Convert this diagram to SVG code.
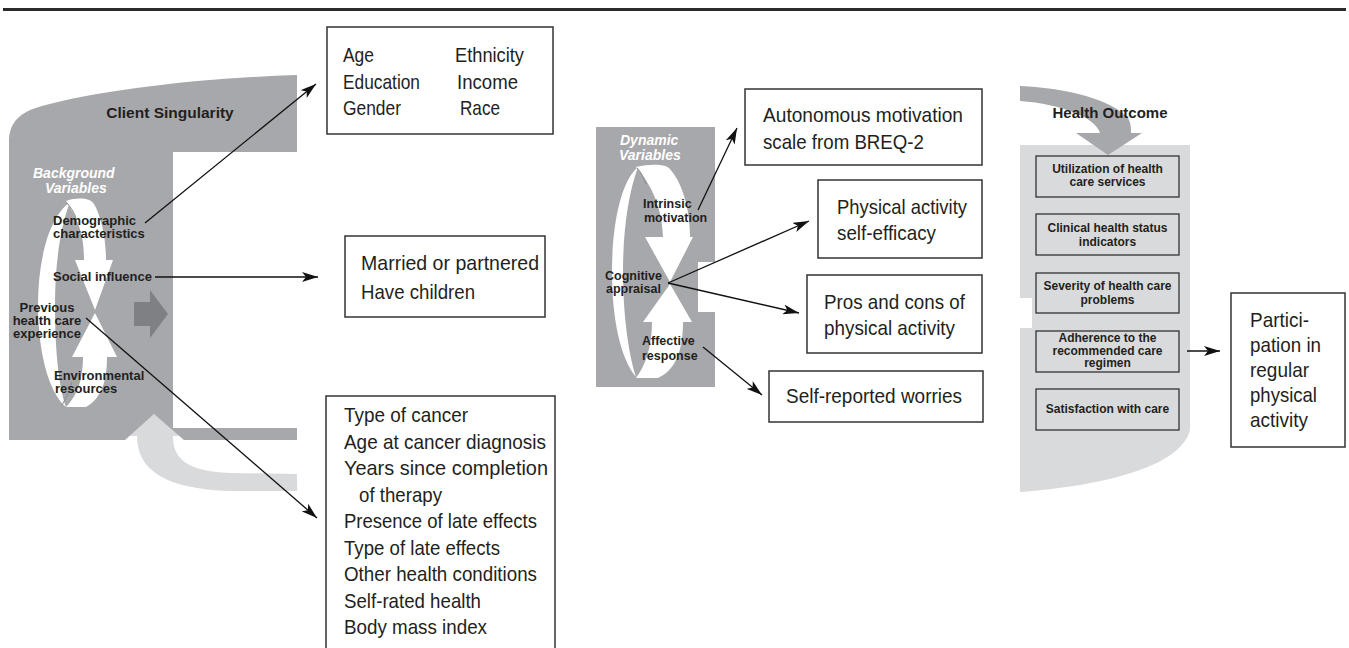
<svg xmlns="http://www.w3.org/2000/svg" width="1349" height="648" viewBox="0 0 1349 648">
<defs>
<marker id="ah" viewBox="0 0 16 10" refX="16" refY="5" markerWidth="16" markerHeight="10" markerUnits="userSpaceOnUse" orient="auto">
<path d="M0,0 L16,5 L0,10 L4,5 Z" fill="#111"/>
</marker>
<style>
.panel{fill:#a7a8ab}
.dark{fill:#7f8083}
.light{fill:#d9dadc}
.white{fill:#fff}
.tw{fill:none;stroke:#8a8b8e;stroke-width:1}
.lbl{font-family:"Liberation Sans",Arial,sans-serif;font-weight:bold;font-size:13px;fill:#231f20}
.lbm{font-family:"Liberation Sans",Arial,sans-serif;font-weight:bold;font-size:12.5px;fill:#231f20}
.ttl{font-family:"Liberation Sans",Arial,sans-serif;font-weight:bold;font-size:15.5px;fill:#231f20}
.wit{font-family:"Liberation Sans",Arial,sans-serif;font-weight:bold;font-style:italic;font-size:14px;fill:#fff}
.box{fill:#fff;stroke:#333;stroke-width:1.5}
.ibox{fill:none;stroke:#333;stroke-width:1.3}
.bt{font-family:"Liberation Sans",Arial,sans-serif;font-size:21px;fill:#231f20}
.ib{font-family:"Liberation Sans",Arial,sans-serif;font-weight:bold;font-size:12px;fill:#231f20;text-anchor:middle}
.conn{fill:none;stroke:#111;stroke-width:1.3;marker-end:url(#ah)}
</style>
</defs>
<rect width="1349" height="648" fill="#fff"/>
<rect x="3" y="8" width="1343" height="3" fill="#2b2b2b"/>

<g id="client-singularity">
<path class="light" d="M137,436 L125,436 L154,414 L184,436 L173,436 C173,458 185,471 230,473 L297,474 L297,491 L230,491 C165,489 137,470 137,436 Z"/>
<path class="panel" d="M9,440 V142 C9,122 20,112 42,106 C100,90 200,78 297,75 V152 H173 V428 H297 V440 H184 L154,414 L125,440 Z"/>
<path class="dark" d="M134,302 H150 V290 L168,314 L150,338 V326 H134 Z"/>
<path class="white" d="M70,202 C48,218 38,262 38,305 C38,350 48,392 66,407 C58,385 55,345 55,305 C55,265 60,228 70,202 Z"/>
<path class="white" d="M66,201 C78,197 90,198 94,204 C101,216 106,238 106,260 L113,260 L95,310 L75,260 L84,260 C84,238 80,222 66,201 Z"/>
<path class="white" d="M95,313 L117,357 L107,357 C107,380 102,398 86,407 L66,407 C78,395 83,378 83,357 L72,357 Z"/>
<path class="tw" d="M66,202 C70,206 74,212 76,218"/>
<path class="tw" d="M62,405 C66,398 70,390 72,382"/>
<text class="ttl" x="170" y="118" text-anchor="middle">Client Singularity</text>
<text class="wit" x="33" y="178">Background</text>
<text class="wit" x="45" y="193">Variables</text>
<text class="lbl" x="53" y="225">Demographic</text>
<text class="lbl" x="53" y="238">characteristics</text>
<text class="lbl" x="53" y="281">Social influence</text>
<text class="lbl" x="47" y="312" text-anchor="middle">Previous</text>
<text class="lbl" x="47" y="325" text-anchor="middle">health care</text>
<text class="lbl" x="47" y="338" text-anchor="middle">experience</text>
<text class="lbl" x="54" y="380">Environmental</text>
<text class="lbl" x="55" y="393">resources</text>
</g>

<g id="demographics-box">
<rect class="box" x="327" y="27" width="226" height="107"/>
<text class="bt" x="343" y="62" textLength="31" lengthAdjust="spacingAndGlyphs">Age</text>
<text class="bt" x="343" y="89" textLength="77" lengthAdjust="spacingAndGlyphs">Education</text>
<text class="bt" x="343" y="115" textLength="58" lengthAdjust="spacingAndGlyphs">Gender</text>
<text class="bt" x="455" y="62" textLength="69" lengthAdjust="spacingAndGlyphs">Ethnicity</text>
<text class="bt" x="457" y="89" textLength="61" lengthAdjust="spacingAndGlyphs">Income</text>
<text class="bt" x="460" y="115" textLength="40" lengthAdjust="spacingAndGlyphs">Race</text>
</g>

<g id="social-box">
<rect class="box" x="345" y="236" width="200" height="81"/>
<text class="bt" x="361" y="270" textLength="178" lengthAdjust="spacingAndGlyphs">Married or partnered</text>
<text class="bt" x="361" y="299" textLength="114" lengthAdjust="spacingAndGlyphs">Have children</text>
</g>

<g id="health-history-box">
<rect class="box" x="326" y="396" width="229" height="260"/>
<text class="bt" x="344" y="422" textLength="124" lengthAdjust="spacingAndGlyphs">Type of cancer</text>
<text class="bt" x="344" y="449" textLength="202" lengthAdjust="spacingAndGlyphs">Age at cancer diagnosis</text>
<text class="bt" x="344" y="475" textLength="204" lengthAdjust="spacingAndGlyphs">Years since completion</text>
<text class="bt" x="359" y="502" textLength="83" lengthAdjust="spacingAndGlyphs">of therapy</text>
<text class="bt" x="344" y="528" textLength="193" lengthAdjust="spacingAndGlyphs">Presence of late effects</text>
<text class="bt" x="344" y="555" textLength="156" lengthAdjust="spacingAndGlyphs">Type of late effects</text>
<text class="bt" x="344" y="581" textLength="193" lengthAdjust="spacingAndGlyphs">Other health conditions</text>
<text class="bt" x="344" y="608" textLength="137" lengthAdjust="spacingAndGlyphs">Self-rated health</text>
<text class="bt" x="344" y="634" textLength="143" lengthAdjust="spacingAndGlyphs">Body mass index</text>
</g>

<g id="dynamic-variables">
<path class="panel" d="M596,127 H715 V262 H698 V312 H715 V387 H596 Z"/>
<path class="white" d="M638,167 C620,182 612,228 612,272 C612,318 620,358 636,377 C628,352 623,312 623,272 C623,232 628,194 638,167 Z"/>
<path class="white" d="M636,167 C650,164 664,164 669,168 C682,182 690,208 690,237 L693,237 L670,282 L645,237 L663,237 C662,214 656,190 636,167 Z"/>
<path class="white" d="M670,284 L692,322 L683,322 C683,350 676,370 658,378 L636,378 C646,365 652,345 652,322 L643,322 Z"/>
<path class="tw" d="M637,168 C641,172 644,178 646,184"/>
<text class="wit" x="620" y="145">Dynamic</text>
<text class="wit" x="619" y="160">Variables</text>
<text class="lbm" x="643" y="208">Intrinsic</text>
<text class="lbm" x="644" y="222">motivation</text>
<text class="lbm" x="605" y="280">Cognitive</text>
<text class="lbm" x="606" y="293">appraisal</text>
<text class="lbm" x="642" y="345">Affective</text>
<text class="lbm" x="642" y="360">response</text>
</g>

<g id="autonomous-box">
<rect class="box" x="745" y="89" width="237" height="76"/>
<text class="bt" x="763" y="122" textLength="200" lengthAdjust="spacingAndGlyphs">Autonomous motivation</text>
<text class="bt" x="763" y="149" textLength="161" lengthAdjust="spacingAndGlyphs">scale from BREQ-2</text>
</g>

<g id="self-efficacy-box">
<rect class="box" x="818" y="180" width="164" height="78"/>
<text class="bt" x="837" y="214" textLength="130" lengthAdjust="spacingAndGlyphs">Physical activity</text>
<text class="bt" x="837" y="240" textLength="99" lengthAdjust="spacingAndGlyphs">self-efficacy</text>
</g>

<g id="pros-cons-box">
<rect class="box" x="807" y="275" width="175" height="78"/>
<text class="bt" x="824" y="309" textLength="141" lengthAdjust="spacingAndGlyphs">Pros and cons of</text>
<text class="bt" x="824" y="335" textLength="131" lengthAdjust="spacingAndGlyphs">physical activity</text>
</g>

<g id="worries-box">
<rect class="box" x="769" y="371" width="214" height="51"/>
<text class="bt" x="786" y="403" textLength="176" lengthAdjust="spacingAndGlyphs">Self-reported worries</text>
</g>

<g id="health-outcome">
<path class="light" d="M1020,145 H1190 V430 C1180,468 1100,486 1020,492 V328 H1032 V298 H1020 Z"/>
<path class="panel" d="M1020,86 C1068,88 1112,100 1128,118 C1131,123 1131,128 1131,133 L1142,133 L1108,155 L1076,133 L1100,133 C1096,118 1062,104 1020,101 Z"/>
<text class="ttl" x="1110" y="118" text-anchor="middle" style="font-size:15px">Health Outcome</text>
<rect class="ibox" x="1036" y="156" width="143" height="41"/>
<text class="ib" x="1107.5" y="173">Utilization of health</text>
<text class="ib" x="1107.5" y="186">care services</text>
<rect class="ibox" x="1036" y="214" width="143" height="41"/>
<text class="ib" x="1107.5" y="232">Clinical health status</text>
<text class="ib" x="1107.5" y="246">indicators</text>
<rect class="ibox" x="1036" y="273" width="143" height="40"/>
<text class="ib" x="1107.5" y="290">Severity of health care</text>
<text class="ib" x="1107.5" y="304">problems</text>
<rect class="ibox" x="1036" y="331" width="143" height="41"/>
<text class="ib" x="1107.5" y="342">Adherence to the</text>
<text class="ib" x="1107.5" y="355">recommended care</text>
<text class="ib" x="1107.5" y="367">regimen</text>
<rect class="ibox" x="1036" y="389" width="143" height="41"/>
<text class="ib" x="1107.5" y="413">Satisfaction with care</text>
</g>

<g id="participation-box">
<rect class="box" x="1231" y="293" width="114" height="154"/>
<text class="bt" x="1250" y="327" textLength="59" lengthAdjust="spacingAndGlyphs">Partici-</text>
<text class="bt" x="1250" y="352" textLength="71" lengthAdjust="spacingAndGlyphs">pation in</text>
<text class="bt" x="1250" y="377" textLength="59" lengthAdjust="spacingAndGlyphs">regular</text>
<text class="bt" x="1250" y="402" textLength="67" lengthAdjust="spacingAndGlyphs">physical</text>
<text class="bt" x="1250" y="427" textLength="58" lengthAdjust="spacingAndGlyphs">activity</text>
</g>

<g id="connectors">
<line class="conn" x1="145" y1="223" x2="316" y2="84"/>
<line class="conn" x1="155" y1="277" x2="318" y2="277"/>
<line class="conn" x1="86" y1="318" x2="317" y2="518"/>
<line class="conn" x1="698" y1="210" x2="737" y2="128"/>
<line class="conn" x1="668" y1="283" x2="809" y2="221"/>
<line class="conn" x1="668" y1="283" x2="799" y2="313"/>
<line class="conn" x1="703" y1="347" x2="762" y2="395"/>
<line class="conn" x1="1187" y1="351" x2="1220" y2="351"/>
</g>
</svg>
